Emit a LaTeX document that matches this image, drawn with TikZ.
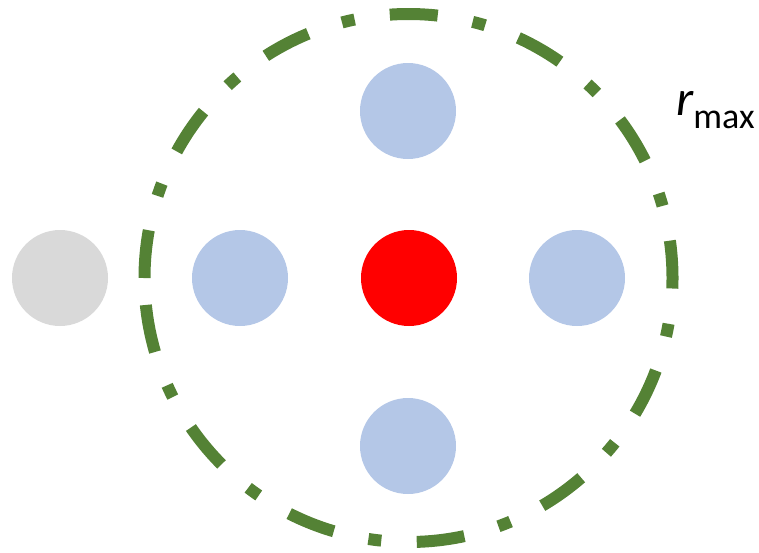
\documentclass[tikz,border=0pt]{standalone}
\usepackage{fontspec}
\setmainfont{Carlito}
\definecolor{ringgreen}{HTML}{548235}
\definecolor{nbblue}{HTML}{B4C7E7}
\definecolor{farGray}{HTML}{D9D9D9}
\definecolor{centerRed}{HTML}{FF0000}
\begin{document}
\begin{tikzpicture}[x=1pt,y=-1pt,
  dot/.style={circle,inner sep=0pt,minimum size=96pt,draw=none},
  nb/.style={dot,fill=nbblue},
  ring/.style={draw=ringgreen,line width=12pt,line cap=butt,
    dash pattern=on 48pt off 35.5pt on 13pt off 35.5pt}]
\useasboundingbox (0,0) rectangle (759,552);
\coordinate (c) at (408.5,278);
\node[dot,fill=centerRed] (center) at (409,278) {};
\node[nb] (top) at (408,111) {};
\node[nb] (left) at (240,278) {};
\node[nb] (right) at (577,278) {};
\node[nb] (bottom) at (408,446) {};
\node[dot,fill=farGray] (far) at (60,278) {};
\draw[ring] (c) ++(-264,0) arc[start angle=180,end angle=540,radius=264];
\node[anchor=base west,inner sep=0pt] (rmax) at (676,115)
  {{\fontsize{50}{50}\selectfont\itshape r}\raisebox{-13pt}{\fontsize{36}{36}\selectfont max}};
\end{tikzpicture}
\end{document}
